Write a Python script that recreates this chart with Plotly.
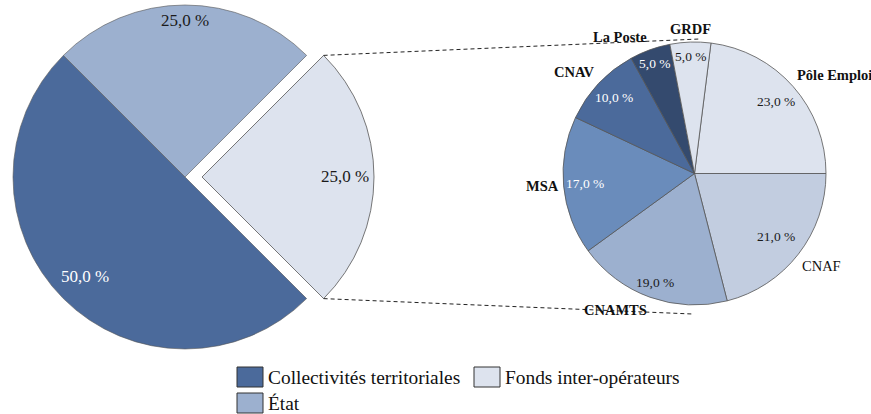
import math
import plotly.graph_objects as go

W, H = 871, 414

# ---------------- data ----------------
main_labels = ["Collectivités territoriales", "État", "Fonds inter-opérateurs"]
main_values = [50.0, 25.0, 25.0]
main_colors = ["#4b6a9b", "#9cb0cf", "#dde3ee"]
main_text_colors = ["white", "#1a1a1a", "#1a1a1a"]
pulled_index = 2  # Fonds inter-opérateurs is detailed in the second pie

sub_labels = ["Pôle Emploi", "CNAF", "CNAMTS", "MSA", "CNAV", "La Poste", "GRDF"]
sub_values = [23.0, 21.0, 19.0, 17.0, 10.0, 5.0, 5.0]
sub_colors = ["#dde3ee", "#c2cde0", "#9cb0cf", "#6a8cbb", "#4b6a9b", "#344a6e", "#dde3ee"]
sub_text_colors = ["#1a1a1a", "#1a1a1a", "#1a1a1a", "white", "white", "white", "#1a1a1a"]
sub_bold = [True, False, True, True, True, True, True]

# ---------------- style / geometry ----------------
FONT = "Liberation Serif, serif"
C1 = (185.0, 177.0)   # main pie centre (px)
R1 = 172.0
PULL = 17.0           # px offset of the detailed slice
ROT1 = 135.0
C2 = (694.5, 173.5)   # secondary pie centre (px)
R2 = 131.5
ROT2 = 7.2
main_label_r = [0.82, 0.91, 0.83]
sub_label_r = [0.83, 0.78, 0.88, 0.84, 0.84, 0.89, 0.89]
NAME_R = 1.02
EDGE = "#555555"


def px(x):
    return x / W


def py(y):
    return 1 - y / H


def fmt(v):
    return f"{v:.1f}".replace(".", ",") + " %"


def angles(values, rot):
    tot = sum(values)
    out = []
    acc = 0.0
    for v in values:
        a0 = rot + 360 * acc / tot
        a1 = rot + 360 * (acc + v) / tot
        out.append((a0, a1, (a0 + a1) / 2))
        acc += v
    return out


def pt(c, r, ang):
    a = math.radians(ang)
    return c[0] + r * math.sin(a), c[1] - r * math.cos(a)


fig = go.Figure()
TR = "rgba(0,0,0,0)"

ang1 = angles(main_values, ROT1)
mid_p = ang1[pulled_index][2]
C1p = (C1[0] + PULL * math.sin(math.radians(mid_p)), C1[1] - PULL * math.cos(math.radians(mid_p)))

# main pie (without the detailed slice)
fig.add_trace(go.Pie(
    labels=main_labels, values=main_values, sort=False, direction="clockwise",
    rotation=ROT1, textinfo="none", showlegend=False,
    marker=dict(colors=[c if i != pulled_index else TR for i, c in enumerate(main_colors)],
                line=dict(color=EDGE, width=[0.6 if i != pulled_index else 0 for i in range(3)])),
    domain=dict(x=[px(C1[0] - R1), px(C1[0] + R1)], y=[py(C1[1] + R1), py(C1[1] - R1)]),
))
# detailed slice, pulled out
fig.add_trace(go.Pie(
    labels=main_labels, values=main_values, sort=False, direction="clockwise",
    rotation=ROT1, textinfo="none", showlegend=False,
    marker=dict(colors=[c if i == pulled_index else TR for i, c in enumerate(main_colors)],
                line=dict(color=EDGE, width=[0.8 if i == pulled_index else 0 for i in range(3)])),
    domain=dict(x=[px(C1p[0] - R1), px(C1p[0] + R1)], y=[py(C1p[1] + R1), py(C1p[1] - R1)]),
))
# secondary pie
fig.add_trace(go.Pie(
    labels=sub_labels, values=sub_values, sort=False, direction="clockwise",
    rotation=ROT2, textinfo="none", showlegend=False,
    marker=dict(colors=sub_colors, line=dict(color=EDGE, width=0.8)),
    domain=dict(x=[px(C2[0] - R2), px(C2[0] + R2)], y=[py(C2[1] + R2), py(C2[1] - R2)]),
))

annotations = []
shapes = []

# main pie labels
for i, (lab, v) in enumerate(zip(main_labels, main_values)):
    c = C1p if i == pulled_index else C1
    x, y = pt(c, main_label_r[i] * R1, ang1[i][2])
    annotations.append(dict(x=px(x), y=py(y), xref="paper", yref="paper", text=fmt(v),
                            showarrow=False, xanchor="center", yanchor="middle",
                            font=dict(family=FONT, size=17, color=main_text_colors[i])))

# secondary pie labels
ang2 = angles(sub_values, ROT2)
for i, (lab, v) in enumerate(zip(sub_labels, sub_values)):
    mid = ang2[i][2]
    x, y = pt(C2, sub_label_r[i] * R2, mid)
    annotations.append(dict(x=px(x), y=py(y), xref="paper", yref="paper", text=fmt(v),
                            showarrow=False, xanchor="center", yanchor="middle",
                            font=dict(family=FONT, size=13.5, color=sub_text_colors[i])))
    s, co = math.sin(math.radians(mid)), math.cos(math.radians(mid))
    xa = "right" if s < -0.3 else ("left" if s > 0.3 else "center")
    ya = "bottom" if co > 0.3 else ("top" if co < -0.3 else "middle")
    nx, ny = pt(C2, NAME_R * R2, mid)
    txt = f"<b>{lab}</b>" if sub_bold[i] else lab
    annotations.append(dict(x=px(nx), y=py(ny), xref="paper", yref="paper", text=txt,
                            showarrow=False, xanchor=xa, yanchor=ya,
                            font=dict(family=FONT, size=14.5, color="#111111")))

# connector (series) lines
a0, a1, _ = ang1[pulled_index]
p_top = pt(C1p, R1, a0)
p_bot = pt(C1p, R1, a1)
for (xa_, ya_), (xb, yb) in [(p_top, (C2[0] + 5, C2[1] - R2 - 3)),
                             (p_bot, (C2[0] - 2, C2[1] + R2 + 9))]:
    shapes.append(dict(type="line", xref="paper", yref="paper",
                       x0=px(xa_), y0=py(ya_), x1=px(xb), y1=py(yb),
                       line=dict(color="#222222", width=1, dash="4px,3px")))

# legend (column-major, 2 rows)
LEG_X = [237, 474]
LEG_Y = [377, 403]
for i, (lab, col) in enumerate(zip(main_labels, main_colors)):
    cx_ = LEG_X[i // 2]
    cy_ = LEG_Y[i % 2]
    shapes.append(dict(type="rect", xref="paper", yref="paper",
                       x0=px(cx_), x1=px(cx_ + 26), y0=py(cy_ + 10), y1=py(cy_ - 10),
                       fillcolor=col, line=dict(color="#333333", width=1)))
    annotations.append(dict(x=px(cx_ + 29), y=py(cy_), xref="paper", yref="paper", text=lab,
                            showarrow=False, xanchor="left", yanchor="middle",
                            font=dict(family=FONT, size=19.4, color="#111111")))

fig.update_layout(
    width=W, height=H, margin=dict(l=0, r=0, t=0, b=0),
    paper_bgcolor="white", plot_bgcolor="white",
    annotations=annotations, shapes=shapes, showlegend=False,
)

fig.write_html("out.html", config={"displayModeBar": False},
               post_script="document.body.style.margin='0';document.body.style.overflow='hidden';")
